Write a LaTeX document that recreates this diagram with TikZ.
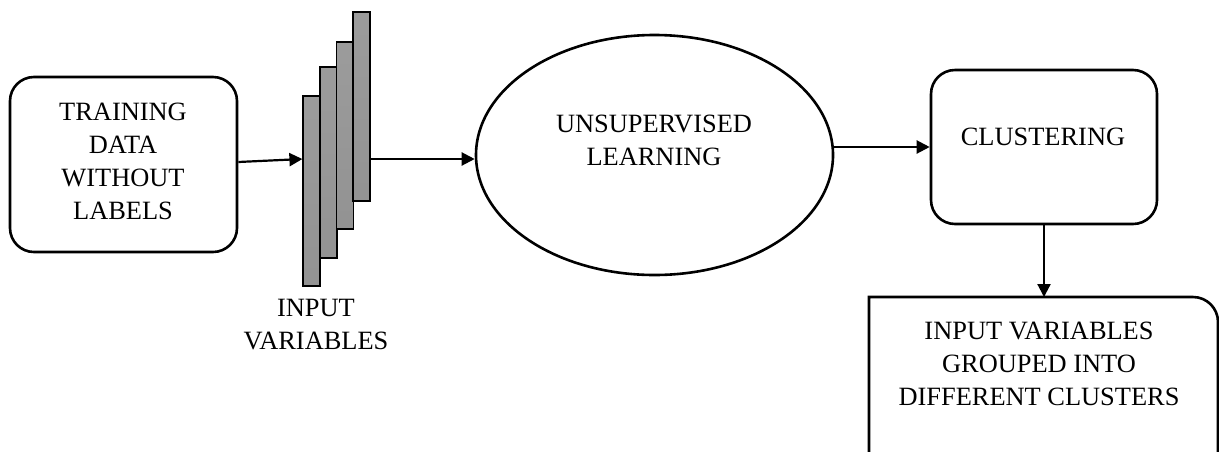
\documentclass[tikz,border=0pt]{standalone}
\usepackage{fontspec}
\setmainfont{Liberation Serif}
\usetikzlibrary{arrows.meta,shapes.geometric}
\begin{document}
\begin{tikzpicture}[x=0.5pt,y=-0.5pt,
  every node/.style={font=\fontsize{13.2pt}{16.5pt}\selectfont},
  box/.style={draw,line width=1.3pt,rounded corners=12pt,inner sep=0pt},
  label/.style={align=center,inner sep=0pt},
  bar/.style={draw,line width=0.6pt,inner sep=0pt,minimum width=8.5pt,
    top color=gray!78,bottom color=gray!115!black},
  arr/.style={line width=1.1pt,-{Triangle[length=6.5pt,width=6.5pt]}}]
\useasboundingbox (0,0) rectangle (1219,451);

% training data box
\node[box,minimum width=113.5pt,minimum height=87.5pt] (train) at (123.5,164.5) {};
\node[label] (traintxt) at (123,161.5) {TRAINING\\DATA\\WITHOUT\\LABELS};

% stack of input variable bars
\node[bar,minimum height=95pt] (bar1) at (311.5,191) {};
\node[bar,minimum height=95.5pt] (bar2) at (328.5,162.5) {};
\node[bar,minimum height=93.5pt] (bar3) at (345,135.5) {};
\node[bar,minimum height=94.5pt] (bar4) at (361.5,106.5) {};
\node[label] (inputtxt) at (316,325) {INPUT\\VARIABLES};
\coordinate (outlevel) at (0,162);
\coordinate (inlevel) at (0,159);

% learning ellipse
\node[ellipse,draw,line width=1.3pt,inner sep=0pt,minimum width=178.5pt,minimum height=120pt] (learn) at (654.5,155) {};
\node[label] (learntxt) at (654,140) {UNSUPERVISED\\LEARNING};

% clustering box
\node[box,minimum width=113pt,minimum height=77pt] (clus) at (1044,147) {};
\node[label] (clustxt) at (1043,137) {CLUSTERING};

% result box, running past the lower edge
\draw[line width=1.3pt] (869,452) -- (869,297) -- (1193,297)
  arc[start angle=90,end angle=0,radius=12.5pt] -- (1218,452);
\coordinate (restop) at (1044,297);
\node[label] (restxt) at (1039,363.5) {INPUT VARIABLES\\GROUPED INTO\\DIFFERENT CLUSTERS};

% connectors
\draw[arr] (train.east |- outlevel) -- (bar1.west |- inlevel);
\draw[arr] (bar4.east |- inlevel) -- (learn.west |- inlevel);
\draw[arr] (learn.east |- clus.west) -- (clus.west);
\draw[arr] (clus.south) -- (restop);
\end{tikzpicture}
\end{document}
